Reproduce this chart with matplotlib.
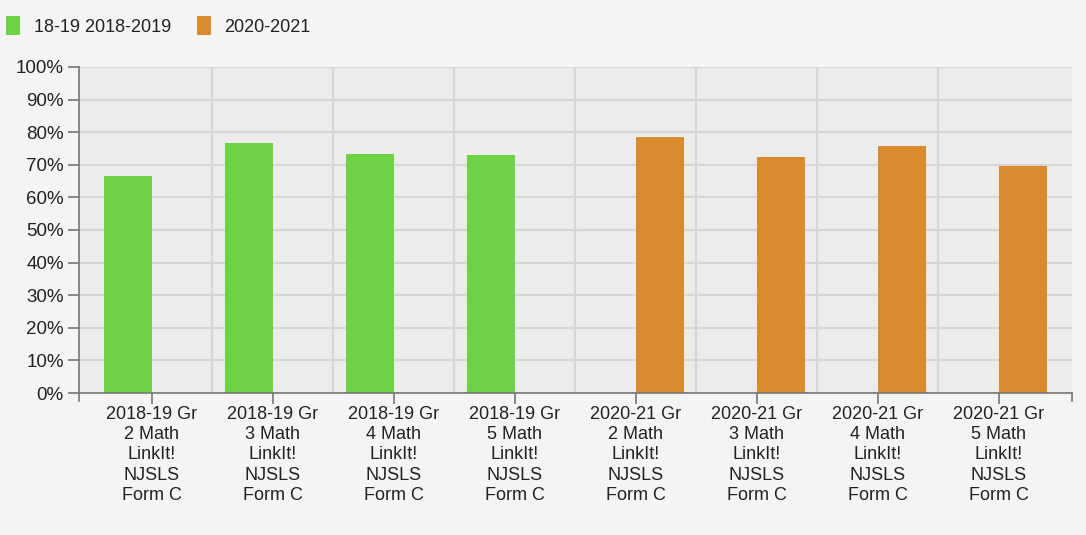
import numpy as np
import matplotlib.pyplot as plt

plt.rcParams['font.family'] = ['Liberation Sans', 'DejaVu Sans']

# data
categories = [
    '2018-19 Gr\n2 Math\nLinkIt!\nNJSLS\nForm C',
    '2018-19 Gr\n3 Math\nLinkIt!\nNJSLS\nForm C',
    '2018-19 Gr\n4 Math\nLinkIt!\nNJSLS\nForm C',
    '2018-19 Gr\n5 Math\nLinkIt!\nNJSLS\nForm C',
    '2020-21 Gr\n2 Math\nLinkIt!\nNJSLS\nForm C',
    '2020-21 Gr\n3 Math\nLinkIt!\nNJSLS\nForm C',
    '2020-21 Gr\n4 Math\nLinkIt!\nNJSLS\nForm C',
    '2020-21 Gr\n5 Math\nLinkIt!\nNJSLS\nForm C',
]
series_names = ['18-19 2018-2019', '2020-2021']
vals_1819 = [66.7, 76.7, 73.4, 73.1, np.nan, np.nan, np.nan, np.nan]
vals_2021 = [np.nan, np.nan, np.nan, np.nan, 78.6, 72.3, 75.9, 69.5]
colors = ['#6dd246', '#d98b2d']

fig = plt.figure(figsize=(10.86, 5.35), dpi=100)
fig.patch.set_facecolor('#f4f4f4')
ax = fig.add_axes([0.0727, 0.2654, 0.9143, 0.6094])
ax.set_facecolor('#ececec')

x = np.arange(len(categories))
w = 0.4
ax.bar(x - w / 2, vals_1819, w, color=colors[0], label=series_names[0], zorder=3)
ax.bar(x + w / 2, vals_2021, w, color=colors[1], label=series_names[1], zorder=3)

pad = 12.5 / 121
ax.set_xlim(-0.5 - pad, len(categories) - 0.5 + pad)
ax.set_ylim(0, 100)

ax.set_yticks(np.arange(0, 101, 10))
ax.set_yticklabels([f'{v}%' for v in range(0, 101, 10)], fontsize=13.5, color='#222222')
ax.set_xticks(x)
ax.set_xticklabels(categories, fontsize=13, color='#222222', linespacing=1.24)
ax.set_xticks(np.arange(0.5, len(categories) - 1, 1), minor=True)

ax.tick_params(axis='y', length=8, width=1.2, color='#777777', pad=3)
ax.tick_params(axis='x', which='major', length=8, width=1.2, color='#777777', pad=1.5)
ax.tick_params(axis='x', which='minor', length=0)

ax.grid(axis='y', which='major', color='#d6d6d6', linewidth=1.6, zorder=0)
ax.grid(axis='x', which='minor', color='#d6d6d6', linewidth=1.6, zorder=0)
ax.grid(axis='x', which='major', visible=False)

for s in ['top', 'right']:
    ax.spines[s].set_visible(False)
for s in ['left', 'bottom']:
    ax.spines[s].set_color('#777777')
    ax.spines[s].set_linewidth(1.2)
    ax.spines[s].set_zorder(4)
# end ticks below the axis at both edges
ax.plot([ax.get_xlim()[0]] * 2, [0, -2.5], color='#777777', lw=1.2, clip_on=False)
ax.plot([ax.get_xlim()[1]] * 2, [0, -2.5], color='#777777', lw=1.2, clip_on=False)

leg = fig.legend(loc='upper left', bbox_to_anchor=(-0.009, 1.0), ncol=2, frameon=False,
                 fontsize=13, handlelength=0.75, handleheight=1.2, handletextpad=0.75,
                 columnspacing=1.45, borderaxespad=0.5)
for t in leg.get_texts():
    t.set_color('#222222')

fig.savefig('out.png', dpi=100, facecolor=fig.get_facecolor())
